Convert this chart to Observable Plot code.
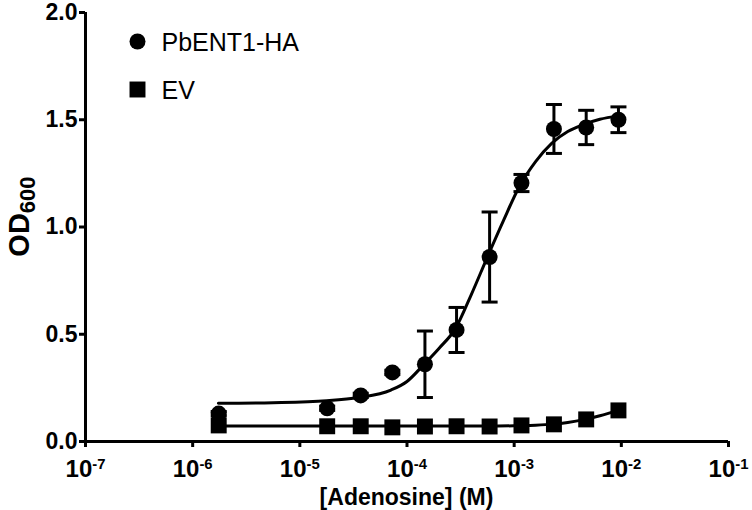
<!DOCTYPE html>
<html>
<head>
<meta charset="utf-8">
<script src="https://cdn.jsdelivr.net/npm/d3@7"></script>
<script src="https://cdn.jsdelivr.net/npm/@observablehq/plot@0.6"></script>
<style>
  body { margin: 0; background: #fff; }
  #chart svg { font-family: "Liberation Sans", Arial, sans-serif; }
</style>
</head>
<body>
<div id="chart"></div>
<script>
// ---- data ----
const seriesNames = ["PbENT1-HA", "EV"];
const concentrations = [1.75e-6, 1.8e-5, 3.7e-5, 7.3e-5, 1.47e-4, 2.9e-4, 5.9e-4, 1.17e-3, 2.35e-3, 4.7e-3, 9.4e-3];
const pbent1Mean = [0.13, 0.155, 0.215, 0.322, 0.36, 0.52, 0.86, 1.205, 1.457, 1.464, 1.50];
const pbent1Err  = [0.01, 0.01, 0.01, 0.01, 0.155, 0.105, 0.21, 0.04, 0.114, 0.08, 0.06];
const evMean     = [0.075, 0.071, 0.071, 0.066, 0.070, 0.071, 0.070, 0.075, 0.080, 0.103, 0.145];

// fitted curves (log10 of concentration, OD600)
const pbent1FitLogConc = [-5.76, -5.25, -4.75, -4.45, -4.15, -4.0, -3.85, -3.7, -3.55, -3.4, -3.25, -3.1, -2.95, -2.8, -2.65, -2.5, -2.35, -2.2, -2.03];
const pbent1FitOD      = [0.178, 0.181, 0.19, 0.205, 0.24, 0.28, 0.355, 0.435, 0.525, 0.685, 0.86, 1.03, 1.19, 1.305, 1.39, 1.445, 1.478, 1.502, 1.518];
const evFitLogConc = [-5.76, -4.5, -3.5, -3.0, -2.8, -2.64, -2.5, -2.35, -2.2, -2.03];
const evFitOD      = [0.072, 0.072, 0.072, 0.073, 0.076, 0.081, 0.089, 0.102, 0.12, 0.145];

const xTicks = [1e-7, 1e-6, 1e-5, 1e-4, 1e-3, 1e-2, 1e-1];
const xTickExponents = ["-7", "-6", "-5", "-4", "-3", "-2", "-1"];
const yTicks = [0, 0.5, 1.0, 1.5, 2.0];
const xLabel = "[Adenosine] (M)";
const yLabelMain = "OD";
const yLabelSub = "600";

// ---- tables ----
const pbData = concentrations.map((c, i) => ({c, v: pbent1Mean[i], lo: pbent1Mean[i] - pbent1Err[i], hi: pbent1Mean[i] + pbent1Err[i]}));
const evData = concentrations.map((c, i) => ({c, v: evMean[i]}));
const pbFit = pbent1FitLogConc.map((l, i) => ({c: Math.pow(10, l), v: pbent1FitOD[i]}));
const evFit = evFitLogConc.map((l, i) => ({c: Math.pow(10, l), v: evFitOD[i]}));

const capSymbol = {
  draw(context, size) {
    const w = Math.sqrt(size / Math.PI);
    context.moveTo(-w, 0);
    context.lineTo(w, 0);
  }
};

const plot = Plot.plot({
  width: 752,
  height: 510,
  marginLeft: 85,
  marginRight: 24,
  marginTop: 12,
  marginBottom: 69,
  style: {fontFamily: "'Liberation Sans', Arial, sans-serif", fontSize: "24px", fontWeight: "bold", color: "black", background: "white", overflow: "visible"},
  x: {type: "log", domain: [1e-7, 1e-1]},
  y: {domain: [0, 2]},
  marks: [
    Plot.axisX({ticks: xTicks, tickSize: 6, tickPadding: 12, strokeWidth: 3, label: null, fontSize: 24,
      tickFormat: d => "10^" + xTickExponents[xTicks.indexOf(d)]}),
    Plot.axisY({ticks: yTicks, tickSize: 6, tickPadding: 2, strokeWidth: 3, label: null, fontSize: 23,
      tickFormat: d3.format(".1f")}),
    Plot.ruleY([0], {strokeWidth: 3}),
    Plot.ruleX([1e-7], {strokeWidth: 3}),
    // PbENT1-HA
    Plot.line(pbFit, {x: "c", y: "v", curve: "monotone-x", strokeWidth: 3, stroke: "black"}),
    Plot.ruleX(pbData, {x: "c", y1: "lo", y2: "hi", strokeWidth: 3, stroke: "black"}),
    Plot.dot(pbData, {x: "c", y: "hi", symbol: capSymbol, r: 8, stroke: "black", strokeWidth: 3, fill: "none"}),
    Plot.dot(pbData, {x: "c", y: "lo", symbol: capSymbol, r: 8, stroke: "black", strokeWidth: 3, fill: "none"}),
    Plot.dot(pbData, {x: "c", y: "v", symbol: "circle", r: 8, fill: "black", stroke: "none"}),
    // EV
    Plot.line(evFit, {x: "c", y: "v", curve: "monotone-x", strokeWidth: 3, stroke: "black"}),
    Plot.dot(evData, {x: "c", y: "v", symbol: "square", r: 9, fill: "black", stroke: "none"}),
    // legend
    Plot.dot([seriesNames[0]], {frameAnchor: "top-left", dx: 52, dy: 29, symbol: "circle", r: 8, fill: "black"}),
    Plot.dot([seriesNames[1]], {frameAnchor: "top-left", dx: 52, dy: 77, symbol: "square", r: 9, fill: "black"}),
    Plot.text([seriesNames[0]], {frameAnchor: "top-left", dx: 76, dy: 30, text: d => d, textAnchor: "start", lineAnchor: "middle", fontSize: 25, fontWeight: "normal", fill: "black"}),
    Plot.text([seriesNames[1]], {frameAnchor: "top-left", dx: 76, dy: 78, text: d => d, textAnchor: "start", lineAnchor: "middle", fontSize: 25, fontWeight: "normal", fill: "black"})
  ]
});

const svg = d3.select(plot.tagName === "svg" ? plot : plot.querySelector("svg"));

// superscript exponents on x tick labels
svg.selectAll('[aria-label="x-axis tick label"] text').each(function() {
  const parts = this.textContent.split("^");
  this.textContent = "";
  const t = d3.select(this);
  t.append("tspan").text(parts[0]);
  t.append("tspan").attr("dy", "-0.5em").attr("font-size", "0.62em").text(parts[1]);
});

// axis titles
const xs = plot.scale("x").range;
svg.append("text")
  .attr("x", (xs[0] + xs[1]) / 2)
  .attr("y", 505)
  .attr("text-anchor", "middle")
  .attr("font-size", 23)
  .attr("font-weight", "bold")
  .attr("fill", "black")
  .text(xLabel);

const ys = plot.scale("y").range;
const yl = svg.append("text")
  .attr("transform", `translate(29,${(ys[0] + ys[1]) / 2 - 10}) rotate(-90)`)
  .attr("text-anchor", "middle")
  .attr("font-size", 29)
  .attr("font-weight", "bold")
  .attr("fill", "black");
yl.append("tspan").text(yLabelMain);
yl.append("tspan").attr("dy", "0.25em").attr("font-size", "0.76em").text(yLabelSub);

document.getElementById("chart").appendChild(plot);
</script>
</body>
</html>
